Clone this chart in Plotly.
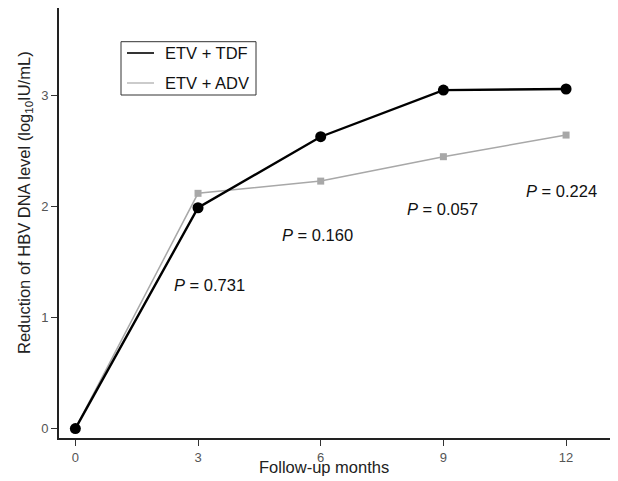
import plotly.graph_objects as go

months = [0, 3, 6, 9, 12]
tdf = [0.0, 1.99, 2.63, 3.05, 3.06]
adv = [0.0, 2.12, 2.23, 2.45, 2.645]
series_names = ["ETV + TDF", "ETV + ADV"]
p_labels = ["0.731", "0.160", "0.057", "0.224"]
p_x = [3.27, 5.93, 8.98, 11.89]
p_y = [1.29, 1.74, 1.98, 2.14]
x_ticks = [0, 3, 6, 9, 12]
y_ticks = [0, 1, 2, 3]

FONT = "Liberation Sans, Arial, sans-serif"
# page is drawn with an 8px body offset; plot area in page px: x 59..618, y 8..438
OFF = 8
L, R, T, B = 59 - OFF, 618 - OFF, 8 - OFF, 438 - OFF
W, H = 618 - OFF, 481 - OFF
PW, PH = R - L, B - T


def px(xp):
    return (xp - OFF - L) / PW


def py(yp):
    return (B - (yp - OFF)) / PH


fig = go.Figure()
fig.add_trace(go.Scatter(x=months, y=adv, mode="lines+markers", name=series_names[1],
                         line=dict(color="#a8a8a8", width=1.5),
                         marker=dict(symbol="square", size=7, color="#a8a8a8"), showlegend=False))
fig.add_trace(go.Scatter(x=months, y=tdf, mode="lines+markers", name=series_names[0],
                         line=dict(color="#000000", width=2.4),
                         marker=dict(symbol="circle", size=11, color="#000000"), showlegend=False))

for lab, xx, yy in zip(p_labels, p_x, p_y):
    fig.add_annotation(x=xx, y=yy, text="<i>P</i> = " + lab, showarrow=False,
                       font=dict(family=FONT, size=16.5, color="#111"), xanchor="center", yanchor="middle")

# manual legend
fig.add_shape(type="rect", xref="paper", yref="paper", x0=px(121), x1=px(256),
              y0=py(95), y1=py(41.7), line=dict(color="#333", width=1), fillcolor="white")
leg_colors = ["#000000", "#a8a8a8"]
leg_widths = [1.6, 1.2]
leg_y = [53, 83]
for name, c, w, ly in zip(series_names, leg_colors, leg_widths, leg_y):
    fig.add_shape(type="line", xref="paper", yref="paper", x0=px(127), x1=px(154),
                  y0=py(ly), y1=py(ly), line=dict(color=c, width=w))
    fig.add_annotation(xref="paper", yref="paper", x=px(163), y=py(ly), text=name, showarrow=False,
                       xanchor="left", yanchor="middle", font=dict(family=FONT, size=16.5, color="#111"))

fig.add_annotation(xref="paper", yref="paper", x=px(324), y=py(467), text="Follow-up months",
                   showarrow=False, xanchor="center", yanchor="middle",
                   font=dict(family=FONT, size=16.5, color="#222"))
fig.add_annotation(xref="paper", yref="paper", x=px(25), y=py(203),
                   text="Reduction of HBV DNA level (log<sub>10</sub>IU/mL)", textangle=-90,
                   showarrow=False, xanchor="center", yanchor="middle",
                   font=dict(family=FONT, size=16.5, color="#222"))

fig.update_layout(
    width=W, height=H, margin=dict(l=L, r=W - R, t=T, b=H - B, autoexpand=False),
    paper_bgcolor="white", plot_bgcolor="white",
    font=dict(family=FONT),
)
fig.update_xaxes(range=[-0.4, 13.27], tickvals=x_ticks, ticks="outside", ticklen=6, tickwidth=1,
                 tickcolor="#333", showline=True, linecolor="#222", linewidth=2, showgrid=False,
                 zeroline=False, automargin=False, tickfont=dict(size=13, color="#555", family=FONT))
fig.update_yaxes(range=[-0.085, 3.79], tickvals=y_ticks, ticks="outside", ticklen=6, tickwidth=1,
                 tickcolor="#333", showline=True, linecolor="#222", linewidth=2, showgrid=False,
                 zeroline=False, automargin=False, tickfont=dict(size=13, color="#555", family=FONT))
fig.write_html("out.html")
